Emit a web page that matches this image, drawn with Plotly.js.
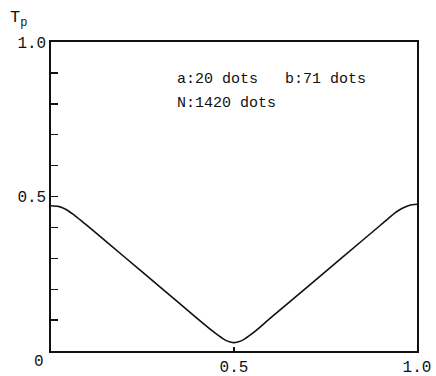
<!DOCTYPE html>
<html>
<head>
<meta charset="utf-8">
<script src="https://cdn.plot.ly/plotly-3.0.1.min.js"></script>
<style>html,body{margin:0;padding:0;background:#fff;}#chart{width:436px;height:376px;}</style>
</head>
<body>
<div id="chart"></div>
<script>
// Tp versus position
var xPos = [0, 0.02, 0.04, 0.06, 0.08, 0.1, 0.2, 0.3, 0.4, 0.44, 0.46, 0.475, 0.49, 0.5,
            0.51, 0.525, 0.54, 0.56, 0.6, 0.7, 0.8, 0.9, 0.92, 0.94, 0.96, 0.98, 1.0];
var tpVal = [0.470, 0.468, 0.459, 0.443, 0.424, 0.405, 0.305, 0.205, 0.105, 0.066, 0.048, 0.036, 0.029, 0.027,
             0.029, 0.036, 0.048, 0.066, 0.107, 0.207, 0.307, 0.407, 0.427, 0.447, 0.462, 0.472, 0.475];
var yTickVals = [0.5, 1.0];
var yTickText = ['0.5', '1.0'];
var xTickVals = [0.5, 1.0];
var xTickText = ['0.5', '1.0'];
var originLabel = '0';
var noteLines = ['a:20 dots   b:71 dots', 'N:1420 dots'];

var font = 'Liberation Mono, DejaVu Sans Mono, monospace';

var trace = {
  x: xPos, y: tpVal, type: 'scatter', mode: 'lines',
  line: {color: '#111', width: 1.6, shape: 'spline', smoothing: 0.6},
  hoverinfo: 'skip', showlegend: false
};

var layout = {
  width: 436, height: 376,
  margin: {l: 51, r: 19, t: 42, b: 25},
  paper_bgcolor: '#fff', plot_bgcolor: '#fff',
  font: {family: font, color: '#111', size: 16},
  xaxis: {
    range: [0, 1], showgrid: false, zeroline: false,
    showline: true, linecolor: '#111', linewidth: 1.6, mirror: true,
    tickvals: xTickVals, ticktext: xTickText,
    ticks: 'inside', ticklen: 4, tickwidth: 1.2, tickcolor: '#111',
    tickfont: {family: font, size: 16, color: '#111'}
  },
  yaxis: {
    range: [0, 1], showgrid: false, zeroline: false,
    showline: true, linecolor: '#111', linewidth: 1.6, mirror: true,
    tickvals: yTickVals, ticktext: yTickText,
    ticks: 'inside', ticklen: 7, tickwidth: 1.4, tickcolor: '#111',
    minor: {tick0: 0, dtick: 0.1, ticks: 'inside', ticklen: 7, tickwidth: 1.4, tickcolor: '#111', showgrid: false},
    tickfont: {family: font, size: 16, color: '#111'}
  },
  annotations: [
    {xref: 'paper', yref: 'paper', x: 0.34, y: 0.88, xanchor: 'left', yanchor: 'middle',
     text: noteLines[0], showarrow: false, font: {family: font, size: 15, color: '#111'}},
    {xref: 'paper', yref: 'paper', x: 0.34, y: 0.80, xanchor: 'left', yanchor: 'middle',
     text: noteLines[1], showarrow: false, font: {family: font, size: 15, color: '#111'}},
    {xref: 'paper', yref: 'paper', x: -0.033, y: -0.037, xanchor: 'center', yanchor: 'middle',
     text: originLabel, showarrow: false, font: {family: font, size: 16, color: '#111'}},
    {xref: 'paper', yref: 'paper', x: -0.09, y: 1.075, xanchor: 'center', yanchor: 'middle',
     text: 'T<sub>p</sub>', showarrow: false, font: {family: font, size: 17, color: '#111'}}
  ]
};

Plotly.newPlot('chart', [trace], layout, {staticPlot: true, displayModeBar: false});
</script>
</body>
</html>
